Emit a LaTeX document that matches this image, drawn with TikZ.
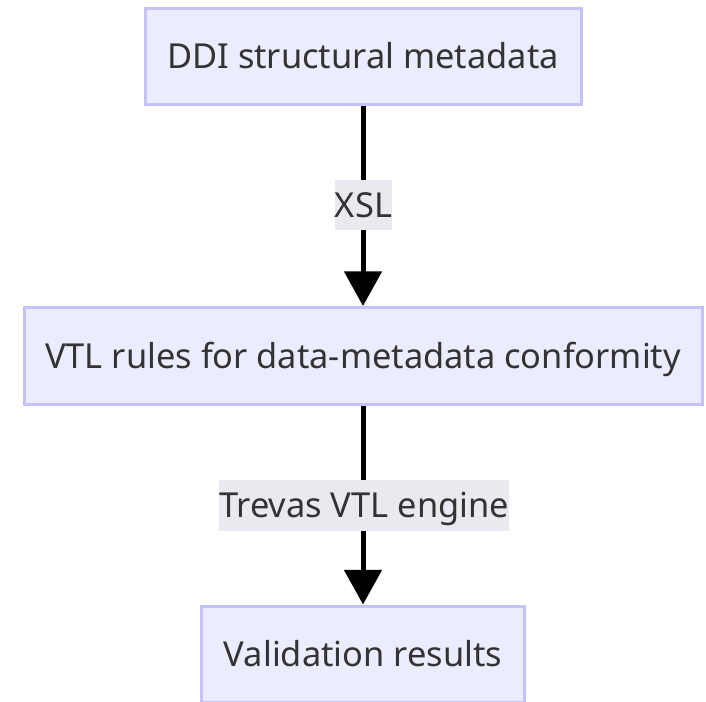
\documentclass[tikz,border=0pt]{standalone}
\usepackage{fontspec}
\setmainfont{Noto Sans}
\usetikzlibrary{arrows.meta}
\definecolor{boxfill}{HTML}{ECECFF}
\definecolor{boxline}{HTML}{C3C3FA}
\definecolor{labelbg}{HTML}{E9E9F0}
\definecolor{txt}{HTML}{333333}
\begin{document}
\begin{tikzpicture}[x=0.75pt,y=-0.75pt,
  textfont/.style={text=txt,font=\fontsize{25.8}{31}\selectfont,
    text height=18.4pt,text depth=0pt},
  flowbox/.style={textfont,draw=boxline,fill=boxfill,line width=2.25pt,inner sep=0pt},
  edgelabel/.style={textfont,fill=labelbg,inner sep=0pt},
  flow/.style={line width=3.75pt,-{Triangle[width=27.75pt,length=26pt]}}]
\useasboundingbox (0,0) rectangle (706,701);
\begin{scope}
\clip (0,0) rectangle (706,701);
\node[flowbox,minimum width=327pt,minimum height=72pt] (ddi) at (363,56) {DDI structural metadata};
\node[flowbox,minimum width=508.5pt,minimum height=72.75pt] (vtl) at (363,356) {VTL rules for data-metadata conformity};
\node[flowbox,minimum width=242.25pt,minimum height=72pt] (res) at (363,654) {Validation results};
\draw[flow] (ddi.south) -- (vtl.north);
\draw[flow] (vtl.south) -- (res.north);
\node[edgelabel,minimum width=41.25pt,minimum height=37.5pt] (xsl) at (363.5,205) {XSL};
\node[edgelabel,minimum width=217.5pt,minimum height=38.25pt] (trevas) at (364,505.5) {Trevas VTL engine};
\end{scope}
\end{tikzpicture}
\end{document}
